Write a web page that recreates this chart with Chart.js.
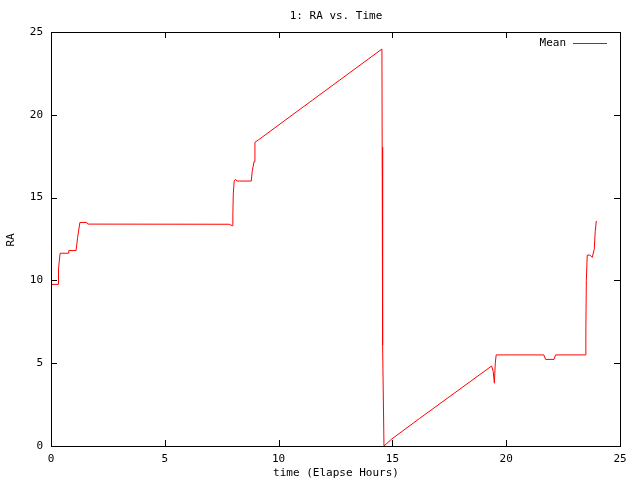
<!DOCTYPE html>
<html>
<head>
<meta charset="utf-8">
<script src="https://cdn.jsdelivr.net/npm/chart.js@4"></script>
<style>
  html, body { margin: 0; padding: 0; background: #fff; }
  #wrap { width: 640px; height: 480px; }
</style>
</head>
<body>
<div id="wrap"><canvas id="c" width="640" height="480"></canvas></div>
<script>
// valores (horas decorridas x RA médio)
const timeHours = [
  0, 0.32, 0.33, 0.40, 0.76, 0.78, 1.10, 1.17, 1.27, 1.57, 1.62,
  7.83, 7.86, 7.97, 7.99, 8.01, 8.05, 8.11, 8.17,
  8.80, 8.84, 8.92, 8.96, 9.11, 11.50, 14.54,
  14.55, 14.57, 14.63, 14.97, 16.20, 19.36,
  19.43, 19.48, 19.52, 19.56, 21.65, 21.73, 22.10, 22.17,
  23.48, 23.50, 23.52, 23.56, 23.68, 23.78, 23.87, 23.91, 23.96,
];
const raMean = [
  9.76, 9.76, 10.7, 11.64, 11.64, 11.8, 11.8, 12.6, 13.5, 13.5, 13.4,
  13.39, 13.39, 13.3, 13.95, 15.26, 16.0, 16.1, 16.0,
  16.0, 16.57, 17.17, 18.34, 18.48, 20.9, 23.97,
  18.04, 6.1, 0, 0.42, 1.67, 4.83,
  4.49, 3.79, 5.0, 5.5, 5.5, 5.23, 5.23, 5.5,
  5.5, 6.94, 9.98, 11.53, 11.53, 11.39, 11.88, 12.94, 13.59,
];
const axisTicks = [0, 5, 10, 15, 20, 25];

const FONTE = '11px "DejaVu Sans Mono", monospace';

// borda, ticks para dentro, títulos e legenda estilo gnuplot
const gnuplotDeco = {
  id: "gnuplotDeco",
  afterDraw(chart) {
    const { ctx, chartArea: a, scales } = chart;
    const tl = 6;
    ctx.save();
    ctx.strokeStyle = "#000";
    ctx.lineWidth = 1;
    ctx.beginPath();
    axisTicks.forEach((v) => {
      const x = Math.round(scales.x.getPixelForValue(v)) + 0.5;
      ctx.moveTo(x, a.bottom); ctx.lineTo(x, a.bottom - tl);
      ctx.moveTo(x, a.top); ctx.lineTo(x, a.top + tl);
      const y = Math.round(scales.y.getPixelForValue(v)) + 0.5;
      ctx.moveTo(a.left, y); ctx.lineTo(a.left + tl, y);
      ctx.moveTo(a.right, y); ctx.lineTo(a.right - tl, y);
    });
    ctx.stroke();
    ctx.strokeRect(Math.round(a.left) + 0.5, Math.round(a.top) + 0.5,
      Math.round(a.right - a.left), Math.round(a.bottom - a.top));

    ctx.fillStyle = "#000";
    ctx.font = FONTE;
    ctx.textBaseline = "middle";
    ctx.textAlign = "center";
    ctx.fillText("1: RA vs. Time", 336, 16);
    ctx.fillText("time (Elapse Hours)", 336, 473);

    ctx.save();
    ctx.translate(11, 240);
    ctx.rotate(-Math.PI / 2);
    ctx.fillText("RA", 0, 0);
    ctx.restore();

    // legenda
    ctx.textAlign = "right";
    ctx.fillText("Mean", 566, 43);
    ctx.strokeStyle = "#ff0000";
    ctx.beginPath();
    ctx.moveTo(573, 43.5); ctx.lineTo(607, 43.5);
    ctx.stroke();
    ctx.restore();
  },
};

new Chart(document.getElementById("c"), {
  type: "line",
  data: {
    datasets: [{
      label: "Mean",
      data: timeHours.map((t, i) => ({ x: t, y: raMean[i] })),
      borderColor: "#ff0000",
      borderWidth: 1,
      pointRadius: 0,
      tension: 0,
      fill: false,
    }],
  },
  options: {
    responsive: false,
    animation: false,
    layout: { padding: { top: 32, right: 20, left: 0, bottom: 0 } },
    plugins: { legend: { display: false }, title: { display: false }, tooltip: { enabled: false } },
    scales: {
      x: {
        type: "linear", min: 0, max: 25,
        afterFit: (s) => { s.height = 34; },
        afterBuildTicks: (s) => { s.ticks = axisTicks.map((v) => ({ value: v })); },
        grid: { display: false, drawTicks: false },
        border: { display: false },
        ticks: { color: "#000", font: { family: '"DejaVu Sans Mono", monospace', size: 11 }, padding: 7, maxRotation: 0 },
      },
      y: {
        type: "linear", min: 0, max: 25,
        afterFit: (s) => { s.width = 51; },
        afterBuildTicks: (s) => { s.ticks = axisTicks.map((v) => ({ value: v })); },
        grid: { display: false, drawTicks: false },
        border: { display: false },
        ticks: { color: "#000", font: { family: '"DejaVu Sans Mono", monospace', size: 11 }, padding: 8 },
      },
    },
  },
  plugins: [gnuplotDeco],
});
</script>
</body>
</html>
